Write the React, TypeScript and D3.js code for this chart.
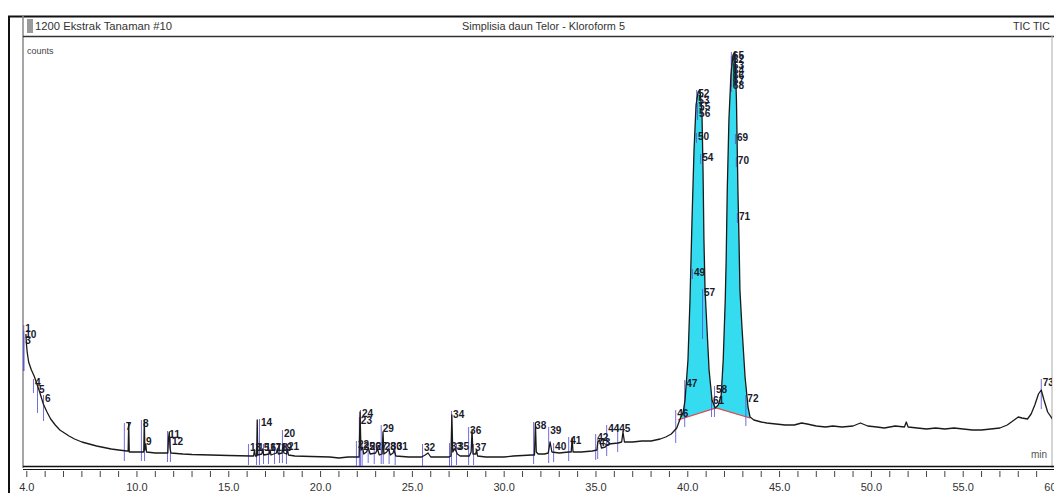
import React from "react";
import * as d3 from "d3";

const W = 1054;
const H = 493;

// TIC trace: [retention time (min), counts (arbitrary units)]
const tic: [number, number][] = [
  [3.95, 128], [3.98, 118], [4.02, 110], [4.1, 100], [4.25, 92], [4.4, 86], [4.55, 78],
  [4.7, 70], [4.9, 58], [5.1, 50], [5.3, 43], [5.55, 37], [5.8, 32], [6.05, 29], [6.3, 26],
  [6.6, 23], [7.0, 20], [7.4, 18], [7.8, 16], [8.2, 14.5], [8.6, 13], [9.0, 12], [9.45, 11],
  [9.52, 11], [9.55, 39], [9.58, 10], [9.9, 10], [10.3, 10],
  [10.37, 10], [10.4, 42], [10.43, 12], [10.48, 18], [10.52, 10], [11.0, 9], [11.5, 9],
  [11.68, 9], [11.72, 24], [11.76, 30], [11.8, 14], [11.85, 9], [12.5, 8], [13.0, 7.5],
  [14.0, 7], [15.0, 6.5], [16.2, 6],
  [16.35, 6], [16.4, 12], [16.45, 6], [16.52, 6], [16.55, 42], [16.58, 7], [16.8, 8],
  [16.85, 13], [16.9, 7], [17.2, 8], [17.25, 12], [17.3, 7], [17.6, 9], [17.65, 13],
  [17.7, 8], [17.9, 9], [17.95, 16], [18.0, 9], [18.15, 8], [18.2, 13], [18.25, 7], [18.6, 6],
  [19.5, 5.5], [20.5, 5], [21.0, 4], [21.5, 5], [22.0, 5],
  [22.1, 5], [22.15, 50], [22.2, 12], [22.3, 14], [22.35, 8], [22.5, 10], [22.6, 14],
  [22.7, 8], [23.0, 9], [23.1, 13], [23.2, 7], [23.35, 8], [23.4, 30], [23.45, 8],
  [23.6, 10], [23.7, 13], [23.8, 7], [23.95, 9], [24.0, 12], [24.1, 6],
  [24.8, 5], [25.5, 5], [25.7, 7], [25.85, 9], [26.0, 5], [26.5, 5], [27.0, 5],
  [27.1, 6], [27.15, 47], [27.2, 10], [27.3, 13], [27.35, 12], [27.45, 8], [27.6, 6],
  [28.1, 6], [28.2, 10], [28.25, 32], [28.3, 8], [28.45, 8], [28.5, 12], [28.55, 6],
  [29.0, 5], [29.5, 5], [30.0, 5], [30.5, 6], [31.0, 6.5], [31.5, 7],
  [31.65, 7], [31.7, 39], [31.75, 10], [31.85, 8], [32.2, 8], [32.4, 9], [32.5, 20],
  [32.6, 10], [33.0, 9], [33.5, 10], [33.65, 10], [33.7, 24], [33.75, 10], [34.2, 10],
  [34.8, 11], [35.05, 12], [35.1, 20], [35.2, 22], [35.3, 14], [35.5, 15], [35.6, 17],
  [35.7, 18], [36.2, 19], [36.4, 20], [36.47, 30], [36.55, 20], [37.0, 20], [37.5, 21],
  [38.0, 21], [38.5, 23], [38.8, 25], [39.1, 28], [39.4, 34], [39.6, 44], [39.75, 50],
  // first big peak
  [39.85, 62], [40.01, 102], [40.12, 162], [40.23, 242], [40.34, 312], [40.45, 357],
  [40.56, 370], [40.66, 372], [40.77, 352], [40.83, 292], [40.88, 222], [40.94, 172],
  [41.05, 132], [41.16, 92], [41.32, 62], [41.49, 54],
  // second big peak
  [41.66, 57], [41.82, 67], [41.93, 102], [42.04, 162], [42.09, 202], [42.15, 272],
  [42.24, 342], [42.35, 387], [42.46, 407], [42.57, 410], [42.65, 362], [42.73, 272],
  [42.79, 222], [42.84, 172], [42.95, 135], [43.12, 85], [43.28, 55], [43.39, 45],
  [43.6, 42], [44.0, 40], [44.3, 39], [44.8, 38], [45.3, 37], [45.8, 37], [46.2, 39],
  [46.5, 38], [47.0, 36], [47.5, 35], [47.9, 36], [48.4, 35], [49.0, 36], [49.4, 39],
  [49.8, 36], [50.3, 35], [50.7, 34], [51.3, 36], [51.8, 35], [51.9, 40], [52.0, 35],
  [52.5, 34], [53.0, 33], [53.5, 34], [54.0, 33], [54.5, 34], [55.0, 33], [55.5, 32],
  [56.0, 32], [56.5, 33], [57.0, 34], [57.4, 37], [57.7, 41], [58.0, 45], [58.2, 44],
  [58.5, 43], [58.7, 48], [58.9, 57], [59.1, 68], [59.25, 72], [59.4, 62], [59.6, 50],
  [59.9, 42], [60.1, 40],
];

// integrated peak numbers, their retention times and label heights
const peakIds = [
  "1", "10", "3", "4", "5", "6", "7", "8", "9", "11", "12",
  "13", "14", "15", "16", "17", "18", "19", "20", "21",
  "22", "23", "24", "25", "26", "27", "28", "29", "30", "31", "32",
  "33", "34", "35", "36", "37", "38", "39", "40", "41", "42", "43", "44", "45", "46",
  "47", "49", "57", "52", "53", "55", "56", "50", "54",
  "61", "58", "72",
  "65", "62", "63", "64", "66", "67", "68", "69", "70", "71", "73",
];
const peakTimes = [
  3.86, 3.86, 3.86, 4.39, 4.61, 4.94, 9.34, 10.27, 10.44, 11.69, 11.85,
  16.1, 16.7, 16.54, 16.92, 17.19, 17.52, 17.79, 17.95, 18.17,
  21.98, 22.14, 22.2, 22.29, 22.62, 22.95, 23.44, 23.33, 23.76, 24.09, 25.58,
  27.05, 27.16, 27.43, 28.09, 28.36, 31.63, 32.45, 32.72, 33.54, 35.01, 35.12, 35.61, 36.21, 39.37,
  39.86, 40.28, 40.83, 40.51, 40.51, 40.56, 40.56, 40.5, 40.73,
  41.32, 41.48, 43.19,
  42.4, 42.4, 42.4, 42.4, 42.4, 42.4, 42.4, 42.62, 42.67, 42.73, 59.28,
];
const peakLabelCounts = [
  130, 124, 118, 76, 69, 60, 32, 35, 17, 24, 17,
  11, 36, 11, 11, 11, 11, 11, 25, 12,
  14, 38, 45, 12, 12, 12, 12, 30, 12, 12, 11,
  12, 44, 12, 28, 11, 33, 28, 12, 18, 21, 16, 30, 30, 45,
  75, 186, 166, 365, 358, 352, 345, 322, 301,
  58, 69, 60,
  403, 399, 393, 388, 383, 378, 373, 321, 298, 242, 76,
];

// integration baseline (red) under the two big peaks
const baseTimes = [39.46, 41.54, 43.39];
const baseCounts = [42, 54, 44];

const majorTicks = [4, 10, 15, 20, 25, 30, 35, 40, 45, 50, 55, 60];
const majorLabels = ["4.0", "10.0", "15.0", "20.0", "25.0", "30.0", "35.0", "40.0", "45.0", "50.0", "55.0", "60.0"];

const font = "'Liberation Sans', Arial, sans-serif";

export default function App() {
  const x = d3.scaleLinear().domain([4, 60]).range([26.8, 1055]);
  const y = d3.scaleLinear().domain([0, 420]).range([462, 42]);

  const bis = d3.bisector((d: [number, number]) => d[0]).left;
  const traceAt = (t: number) => {
    const i = Math.max(1, Math.min(tic.length - 1, bis(tic, t)));
    const a = tic[i - 1], b = tic[i];
    return a[1] + ((t - a[0]) / (b[0] - a[0])) * (b[1] - a[1]);
  };
  const localBase = (t: number) =>
    d3.min(tic.filter((d) => Math.abs(d[0] - t) < 0.3), (d) => d[1]) ?? traceAt(t);

  const line = d3.line<[number, number]>().x((d) => x(d[0])).y((d) => y(d[1]));
  const base = d3.scaleLinear().domain(baseTimes).range(baseCounts);
  const peakPts: [number, number][] = [
    [baseTimes[0], traceAt(baseTimes[0])],
    ...tic.filter((d) => d[0] > baseTimes[0] && d[0] < baseTimes[2]),
    [baseTimes[2], traceAt(baseTimes[2])],
  ];
  const area = d3
    .area<[number, number]>()
    .x((d) => x(d[0]))
    .y0((d) => y(base(d[0])))
    .y1((d) => y(Math.max(d[1], base(d[0]))));

  const minor = d3.range(4, 61);

  return (
    <svg
      width={W}
      height={H}
      style={{ position: "absolute", left: 0, top: 0, background: "#fff" }}
      fontFamily={font}
    >
      <defs>
        <clipPath id="plot">
          <rect x={23} y={37} width={1029} height={429} />
        </clipPath>
      </defs>

      {/* frame */}
      <line x1={8} x2={W} y1={16.5} y2={16.5} stroke="#111" strokeWidth={2} />
      <line x1={9} x2={9} y1={16} y2={H} stroke="#111" strokeWidth={2} />
      <line x1={23} x2={23} y1={16} y2={468} stroke="#888" strokeWidth={1.5} />
      <line x1={23} x2={W} y1={36.5} y2={36.5} stroke="#333" strokeWidth={1.5} />
      <line x1={1052} x2={1052} y1={36} y2={468} stroke="#aaa" strokeWidth={1} />
      <line x1={23} x2={W} y1={466.5} y2={466.5} stroke="#111" strokeWidth={1.5} />
      <line x1={23} x2={W} y1={469.5} y2={469.5} stroke="#111" strokeWidth={1.2} />

      {/* header */}
      <rect x={27} y={19} width={6} height={14} fill="#9a9a9a" />
      <text x={35} y={30} fontSize={11} fill="#333" textLength={137} lengthAdjust="spacingAndGlyphs">
        1200 Ekstrak Tanaman #10
      </text>
      <text x={462} y={30} fontSize={11} fill="#333" textLength={163} lengthAdjust="spacingAndGlyphs">
        Simplisia daun Telor - Kloroform 5
      </text>
      <text x={1013} y={30} fontSize={11} fill="#333" textLength={37} lengthAdjust="spacingAndGlyphs">
        TIC TIC
      </text>
      <text x={27} y={54} fontSize={9} fill="#444">counts</text>
      <text x={1031} y={458} fontSize={10} fill="#555">min</text>

      {/* x axis */}
      {minor.map((t) => (
        <line key={"m" + t} x1={x(t)} x2={x(t)} y1={471} y2={477} stroke="#444" strokeWidth={1} />
      ))}
      {majorTicks.map((t, i) => (
        <text key={"l" + t} x={x(t)} y={491} fontSize={11} fill="#333" textAnchor="middle">
          {majorLabels[i]}
        </text>
      ))}

      <g clipPath="url(#plot)">
        {/* integrated area */}
        <path d={area(peakPts) ?? ""} fill="#35dcef" />
        <path
          d={d3.line<number>().x((t) => x(t)).y((t, i) => y(baseCounts[i]))(baseTimes) ?? ""}
          fill="none"
          stroke="#e8404a"
          strokeWidth={1.2}
        />

        {/* peak markers */}
        {peakTimes.map((t, i) => {
          const ly = y(peakLabelCounts[i]);
          const by = y(localBase(t));
          const far = by - ly > 40;
          return (
            <line
              key={"pk" + i}
              x1={x(t) - 0.5}
              x2={x(t) - 0.5}
              y1={ly - 7}
              y2={far ? ly + 3 : by + 9}
              stroke="#5a56d8"
              strokeWidth={1}
              opacity={0.85}
            />
          );
        })}

        {/* TIC trace */}
        <path d={line(tic) ?? ""} fill="none" stroke="#1a1a1a" strokeWidth={1.3} strokeLinejoin="round" />

        {/* peak numbers */}
        {peakIds.map((id, i) => (
          <text
            key={"pt" + i}
            x={x(peakTimes[i]) + 1}
            y={y(peakLabelCounts[i])}
            fontSize={10}
            fontWeight="bold"
            fill="#1a1a2a"
            textLength={id.length * 5.6}
            lengthAdjust="spacingAndGlyphs"
          >
            {id}
          </text>
        ))}
      </g>
    </svg>
  );
}
